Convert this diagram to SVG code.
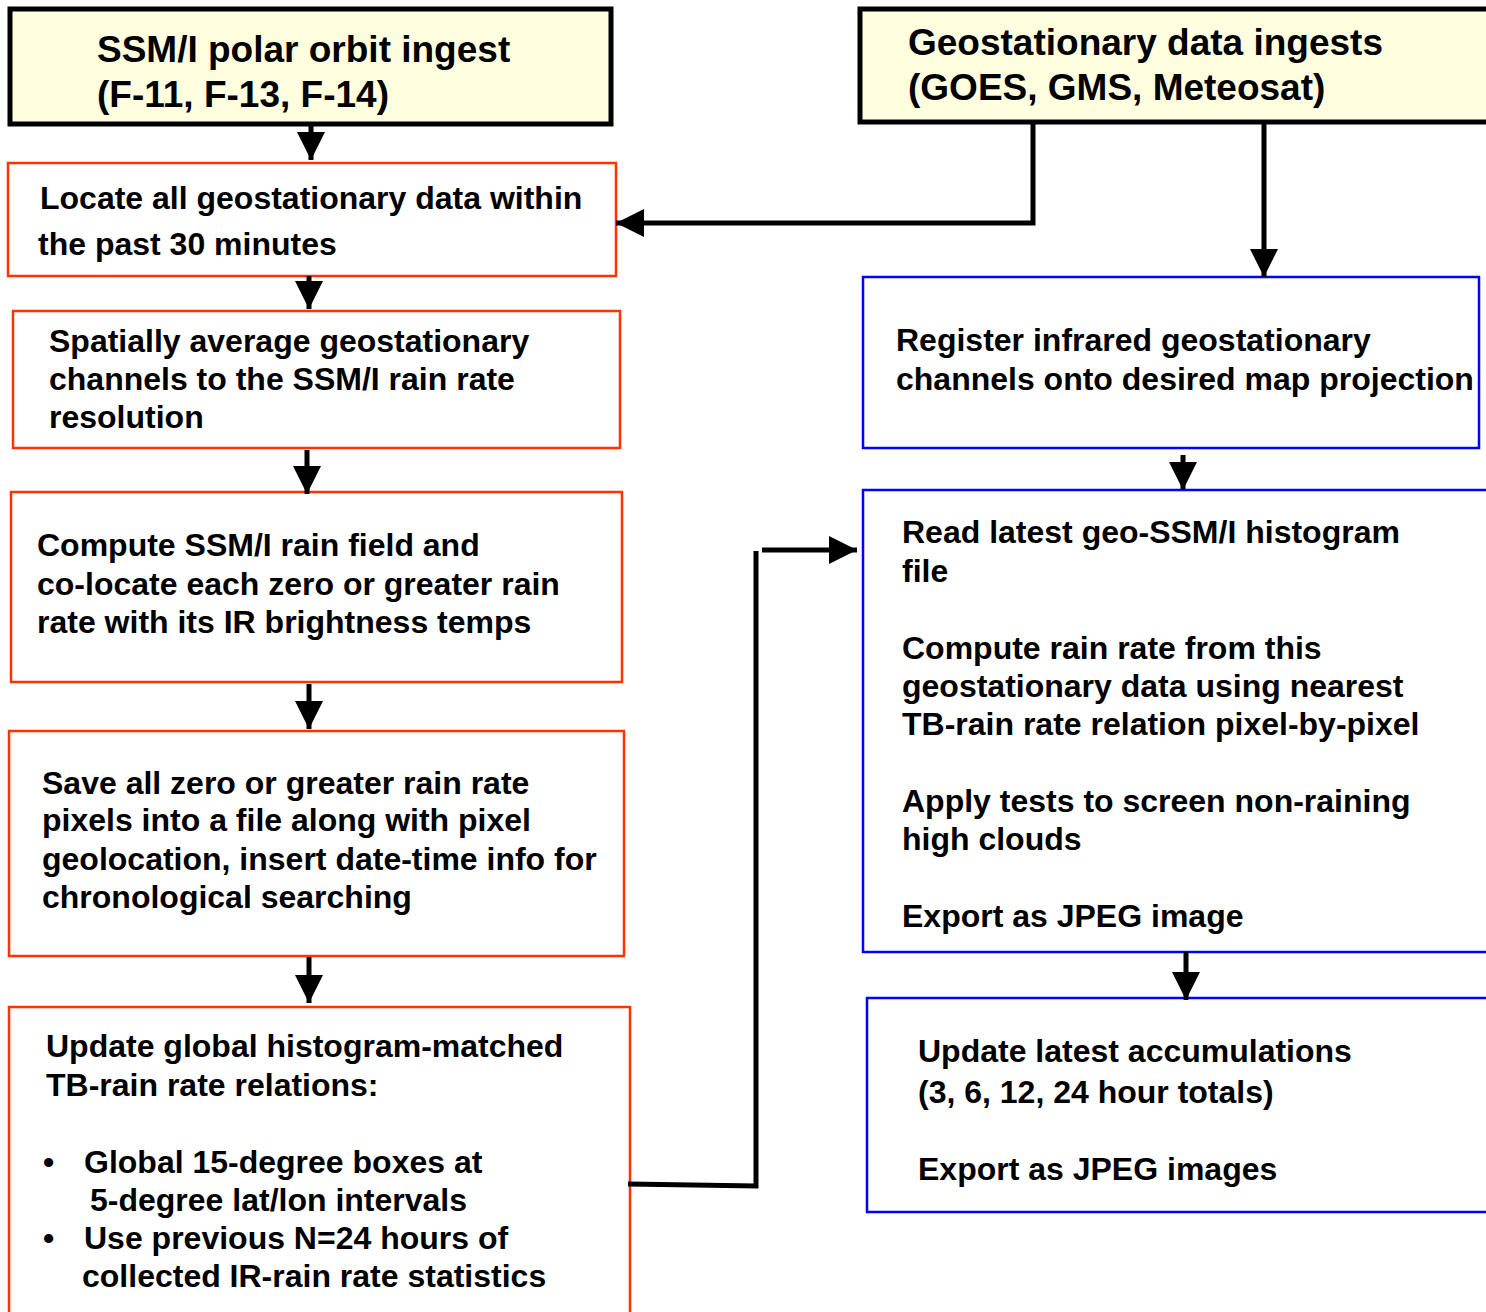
<svg xmlns="http://www.w3.org/2000/svg" width="1486" height="1312" viewBox="0 0 1486 1312">
<style>
text{font-family:"Liberation Sans",Arial,sans-serif;font-weight:bold;fill:#000}
.t{font-size:37px}
.b{font-size:32px}
.top{fill:#ffffe0;stroke:#000;stroke-width:5}
.red{fill:#fff;stroke:#ff3300;stroke-width:2.5}
.blue{fill:#fff;stroke:#0000ff;stroke-width:2.5}
.ln{fill:none;stroke:#000;stroke-width:5;stroke-linejoin:miter}
</style>
<defs>
<marker id="ah" markerUnits="userSpaceOnUse" markerWidth="30" markerHeight="30" refX="28" refY="14" orient="auto">
<polygon points="0,0 28,14 0,28" fill="#000"/>
</marker>
</defs>
<rect width="1486" height="1312" fill="#fff"/>
<g id="n_ssmi">
<rect class="top" x="10" y="9" width="601" height="115"/>
<text class="t" x="97" y="62">SSM/I polar orbit ingest</text>
<text class="t" x="97" y="107">(F-11, F-13, F-14)</text>
</g>
<g id="n_geo">
<rect class="top" x="860" y="9" width="640" height="113"/>
<text class="t" x="908" y="55">Geostationary data ingests</text>
<text class="t" x="908" y="100">(GOES, GMS, Meteosat)</text>
</g>
<g id="n_locate">
<rect class="red" x="8" y="163" width="608" height="113"/>
<text class="b" x="40" y="209">Locate all geostationary data within</text>
<text class="b" x="38" y="255">the past 30 minutes</text>
</g>
<g id="n_spatial">
<rect class="red" x="13" y="311" width="607" height="137"/>
<text class="b" x="49" y="352">Spatially average geostationary</text>
<text class="b" x="49" y="390">channels to the SSM/I rain rate</text>
<text class="b" x="49" y="428">resolution</text>
</g>
<g id="n_compute">
<rect class="red" x="11" y="492" width="611" height="190"/>
<text class="b" x="37" y="556">Compute SSM/I rain field and</text>
<text class="b" x="37" y="595">co-locate each zero or greater rain</text>
<text class="b" x="37" y="633">rate with its IR brightness temps</text>
</g>
<g id="n_save">
<rect class="red" x="9" y="731" width="615" height="225"/>
<text class="b" x="42" y="794">Save all zero or greater rain rate</text>
<text class="b" x="42" y="831">pixels into a file along with pixel</text>
<text class="b" x="42" y="870">geolocation, insert date-time info for</text>
<text class="b" x="42" y="908">chronological searching</text>
</g>
<g id="n_update">
<rect class="red" x="9" y="1007" width="621" height="320"/>
<text class="b" x="46" y="1057">Update global histogram-matched</text>
<text class="b" x="46" y="1096">TB-rain rate relations:</text>
<text class="b" x="43" y="1173">•</text>
<text class="b" x="84" y="1173">Global 15-degree boxes at</text>
<text class="b" x="90" y="1211">5-degree lat/lon intervals</text>
<text class="b" x="43" y="1249">•</text>
<text class="b" x="84" y="1249">Use previous N=24 hours of</text>
<text class="b" x="82" y="1287">collected IR-rain rate statistics</text>
</g>
<g id="n_register">
<rect class="blue" x="863" y="277" width="616" height="171"/>
<text class="b" x="896" y="351">Register infrared geostationary</text>
<text class="b" x="896" y="390">channels onto desired map projection</text>
</g>
<g id="n_read">
<rect class="blue" x="863" y="490" width="640" height="462"/>
<text class="b" x="902" y="543">Read latest geo-SSM/I histogram</text>
<text class="b" x="902" y="582">file</text>
<text class="b" x="902" y="659">Compute rain rate from this</text>
<text class="b" x="902" y="697">geostationary data using nearest</text>
<text class="b" x="902" y="735">TB-rain rate relation pixel-by-pixel</text>
<text class="b" x="902" y="812">Apply tests to screen non-raining</text>
<text class="b" x="902" y="850">high clouds</text>
<text class="b" x="902" y="927">Export as JPEG image</text>
</g>
<g id="n_accum">
<rect class="blue" x="867" y="998" width="640" height="214"/>
<text class="b" x="918" y="1062">Update latest accumulations</text>
<text class="b" x="918" y="1103">(3, 6, 12, 24 hour totals)</text>
<text class="b" x="918" y="1180">Export as JPEG images</text>
</g>
<g id="connectors">
<path class="ln" d="M311,124 V160" marker-end="url(#ah)"/>
<path class="ln" d="M309,276 V309" marker-end="url(#ah)"/>
<path class="ln" d="M307,450 V494" marker-end="url(#ah)"/>
<path class="ln" d="M309,684 V729" marker-end="url(#ah)"/>
<path class="ln" d="M309,957 V1003" marker-end="url(#ah)"/>
<path class="ln" d="M1033,122 V223 H616" marker-end="url(#ah)"/>
<path class="ln" d="M1264,122 V277" marker-end="url(#ah)"/>
<path class="ln" d="M1183,455 V490" marker-end="url(#ah)"/>
<path class="ln" d="M1186,952 V1000" marker-end="url(#ah)"/>
<path class="ln" d="M628,1184 L756,1186 V551"/>
<path class="ln" d="M762,550 H857" marker-end="url(#ah)"/>
</g>
</svg>
